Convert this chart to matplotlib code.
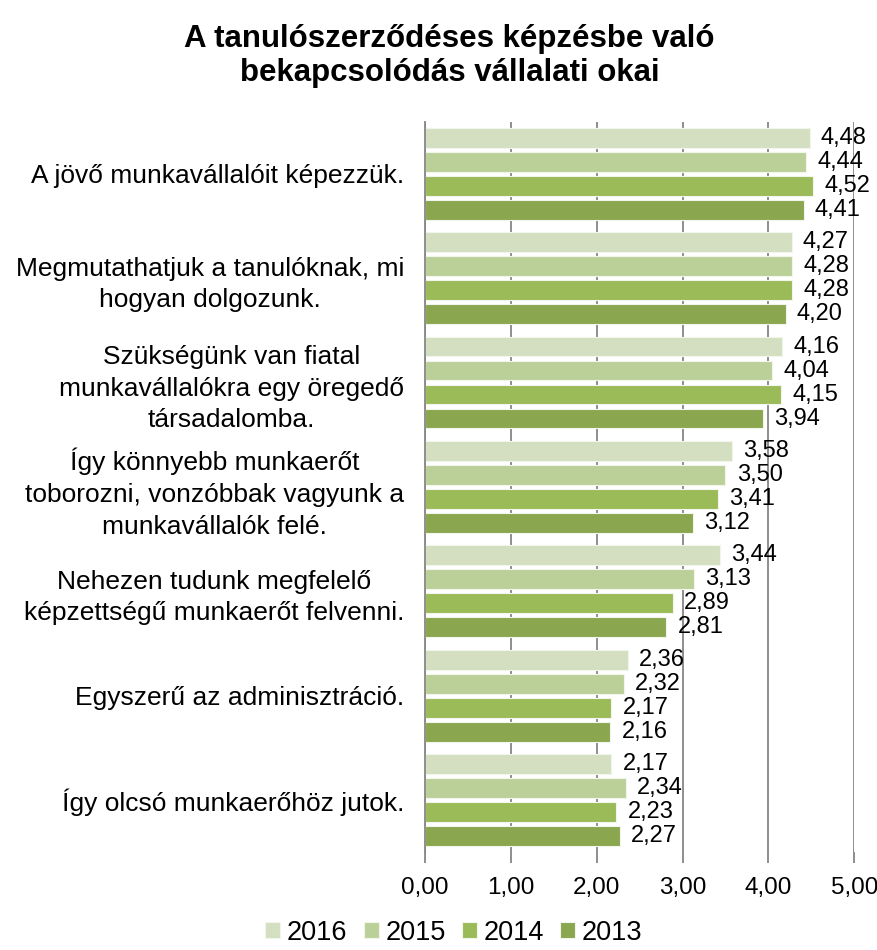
import matplotlib
matplotlib.use("Agg")
import matplotlib.pyplot as plt
import numpy as np

plt.rcParams['font.family'] = ['Liberation Sans', 'DejaVu Sans']

categories = [
    "A jövő munkavállalóit képezzük.",
    "Megmutathatjuk a tanulóknak, mi\nhogyan dolgozunk.",
    "Szükségünk van fiatal\nmunkavállalókra egy öregedő\ntársadalomba.",
    "Így könnyebb munkaerőt\ntoborozni, vonzóbbak vagyunk a\nmunkavállalók felé.",
    "Nehezen tudunk megfelelő\nképzettségű munkaerőt felvenni.",
    "Egyszerű az adminisztráció.",
    "Így olcsó munkaerőhöz jutok.",
]
series_names = ["2016", "2015", "2014", "2013"]
v2016 = [4.48, 4.27, 4.16, 3.58, 3.44, 2.36, 2.17]
v2015 = [4.44, 4.28, 4.04, 3.50, 3.13, 2.32, 2.34]
v2014 = [4.52, 4.28, 4.15, 3.41, 2.89, 2.17, 2.23]
v2013 = [4.41, 4.20, 3.94, 3.12, 2.81, 2.16, 2.27]
xticks = [0, 1, 2, 3, 4, 5]
title = "A tanulószerződéses képzésbe való\nbekapcsolódás vállalati okai"

colors = ["#D3DFC0", "#BBD098", "#9BBB59", "#8AA64F"]
series = [v2016, v2015, v2014, v2013]

fig = plt.figure(figsize=(8.78, 9.5), dpi=100)
ax = fig.add_axes([0.484, 0.103, 0.489, 0.769])

y = np.arange(len(categories))
step = 0.23
h = 0.19
for j, (vals, c, name) in enumerate(zip(series, colors, series_names)):
    pos = y + (j - 1.5) * step
    ax.barh(pos, vals, height=h, color=c, edgecolor="#F2F5EC", linewidth=0.8,
            label=name, zorder=3)
    for p, v in zip(pos, vals):
        ax.text(v + 0.13, p, f"{v:.2f}".replace(".", ","), va="center", ha="left",
                fontsize=17, zorder=4)

ax.set_xlim(0, 5)
ax.set_ylim(len(categories) - 0.5, -0.5)
ax.set_xticks(xticks)
ax.set_xticklabels([f"{t:.2f}".replace(".", ",") for t in xticks], fontsize=17.5)
ax.set_yticks(y)
ax.set_yticklabels(categories, fontsize=19, multialignment="center", linespacing=1.4)
ax.tick_params(axis="y", length=0, pad=15)
ax.tick_params(axis="x", length=8, color="#868686", width=1.3, pad=10)
ax.grid(axis="x", color="#868686", linewidth=1.3, zorder=0)
for s in ["top", "right", "bottom"]:
    ax.spines[s].set_visible(False)
ax.spines["left"].set_color("#868686")
ax.spines["left"].set_linewidth(1.3)
ax.spines["left"].set_zorder(5)

fig.suptitle(title, fontsize=22.5, fontweight="bold", x=0.512, y=0.975)

handles, labels = ax.get_legend_handles_labels()
fig.legend(handles, labels, loc="lower center", bbox_to_anchor=(0.517, -0.021), ncol=4,
           frameon=False, fontsize=19.5, handlelength=0.55, handleheight=0.55,
           handletextpad=0.25, columnspacing=0.6)

fig.savefig("out.png", dpi=100)
